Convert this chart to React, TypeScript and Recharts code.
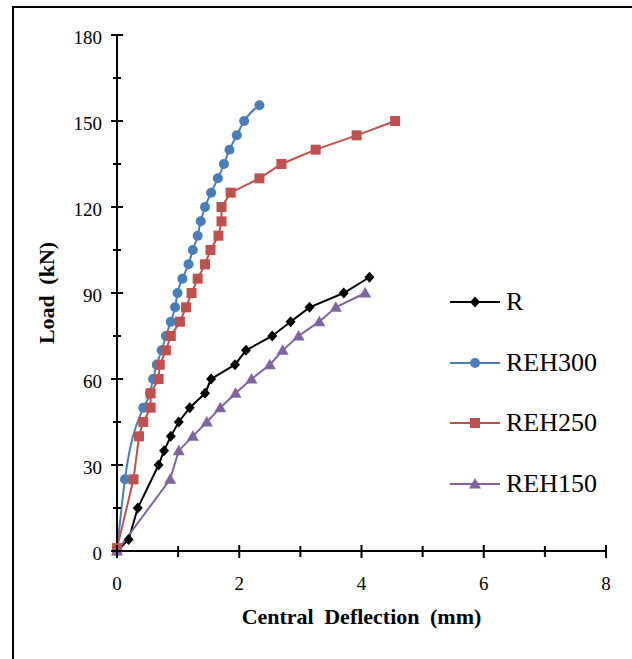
import { LineChart, Line, XAxis, YAxis, Label } from "recharts"

// deflection (mm) / load (kN)
const rDefl = [0, 0.19, 0.34, 0.68, 0.77, 0.88, 1.01, 1.19, 1.44, 1.54, 1.93, 2.11, 2.54, 2.84, 3.15, 3.71, 4.13]
const rLoad = [0, 4, 15, 30, 35, 40, 45, 50, 55, 60, 65, 70, 75, 80, 85, 90, 95.5]

const reh300Defl = [0, 0.13, 0.43, 0.54, 0.59, 0.65, 0.73, 0.8, 0.88, 0.95, 0.99, 1.07, 1.17, 1.24, 1.32, 1.37, 1.44, 1.54, 1.65, 1.75, 1.84, 1.96, 2.08, 2.33]
const reh300Load = [0, 25, 50, 55, 60, 65, 70, 75, 80, 85, 90, 95, 100, 105, 110, 115, 120, 125, 130, 135, 140, 145, 150, 155.5]

const reh250Defl = [0, 0.27, 0.36, 0.43, 0.55, 0.55, 0.68, 0.7, 0.8, 0.88, 1.03, 1.13, 1.22, 1.32, 1.44, 1.53, 1.66, 1.71, 1.71, 1.86, 2.33, 2.69, 3.25, 3.92, 4.55]
const reh250Load = [1, 25, 40, 45, 50, 55, 60, 65, 70, 75, 80, 85, 90, 95, 100, 105, 110, 115, 120, 125, 130, 135, 140, 145, 150]

const reh150Defl = [0, 0.87, 1.01, 1.24, 1.47, 1.69, 1.94, 2.2, 2.5, 2.71, 2.97, 3.31, 3.58, 4.06]
const reh150Load = [0, 25, 35, 40, 45, 50, 55, 60, 65, 70, 75, 80, 85, 90]

const xTicks = [0, 1, 2, 3, 4, 5, 6, 7, 8]
const yTicks = [0, 15, 30, 45, 60, 75, 90, 105, 120, 135, 150, 165, 180]

const toRows = (xs: number[], ys: number[]) => xs.map((x, i) => ({ x, load: ys[i] }))

const FONT = "'Liberation Serif', 'Times New Roman', serif"

const Diamond = (props: any) => {
  const { cx, cy } = props
  if (cx == null || cy == null) return null
  return <path d={`M${cx},${cy - 5.5} L${cx + 5},${cy} L${cx},${cy + 5.5} L${cx - 5},${cy} Z`} fill="#000" />
}
const Circle = (props: any) => {
  const { cx, cy } = props
  if (cx == null || cy == null) return null
  return <circle cx={cx} cy={cy} r={5} fill="#4a7ebb" />
}
const Square = (props: any) => {
  const { cx, cy } = props
  if (cx == null || cy == null) return null
  return <rect x={cx - 5} y={cy - 5} width={10} height={10} fill="#c0504d" />
}
const Triangle = (props: any) => {
  const { cx, cy } = props
  if (cx == null || cy == null) return null
  return <path d={`M${cx},${cy - 6} L${cx + 6},${cy + 4.5} L${cx - 6},${cy + 4.5} Z`} fill="#8064a2" />
}

const series = [
  { name: "R", color: "#000000", data: toRows(rDefl, rLoad), dot: Diamond, type: "linear" as const },
  { name: "REH300", color: "#4a7ebb", data: toRows(reh300Defl, reh300Load), dot: Circle, type: "monotone" as const },
  { name: "REH250", color: "#c0504d", data: toRows(reh250Defl, reh250Load), dot: Square, type: "linear" as const },
  { name: "REH150", color: "#8064a2", data: toRows(reh150Defl, reh150Load), dot: Triangle, type: "linear" as const },
]

const YTick = (props: any) => {
  const { x, y, payload } = props
  const major = payload.value % 30 === 0
  return (
    <g>
      <line x1={x - (major ? 6 : 4)} x2={x + (major ? 6 : 4)} y1={y} y2={y} stroke="#000" strokeWidth={2} />
      {major && (
        <text x={x - 15} y={y + 2} textAnchor="end" dominantBaseline="central" fontFamily={FONT} fontSize={19} fill="#000">
          {payload.value}
        </text>
      )}
    </g>
  )
}

const XTick = (props: any) => {
  const { x, y, payload } = props
  const major = payload.value % 2 === 0
  return (
    <g>
      <line x1={x} x2={x} y1={y - (major ? 6 : 5)} y2={y + (major ? 7 : 6)} stroke="#000" strokeWidth={2} />
      {major && (
        <text x={x} y={y + 32} textAnchor="middle" dominantBaseline="central" fontFamily={FONT} fontSize={19} fill="#000">
          {payload.value}
        </text>
      )}
    </g>
  )
}

const LegendBox = () => (
  <div style={{ position: "absolute", left: 450, top: 272, fontFamily: FONT, fontSize: 26, color: "#000" }}>
    {series.map((s) => {
      const Dot = s.dot
      return (
        <div key={s.name} style={{ display: "flex", alignItems: "center", height: 60.5 }}>
          <svg width={50} height={14} style={{ marginRight: 6 }}>
            <line x1={0} x2={50} y1={7} y2={7} stroke={s.color} strokeWidth={2} />
            <Dot cx={25} cy={7} />
          </svg>
          <span>{s.name}</span>
        </div>
      )
    })}
  </div>
)

const titleStyle = { fontFamily: FONT, fontSize: 22, fontWeight: "bold", fill: "#000", wordSpacing: 5 }

export default function App() {
  return (
    <div style={{ position: "absolute", left: 0, top: 0, width: 632, height: 659, background: "#fff", overflow: "hidden" }}>
      <div style={{ position: "absolute", left: 12, top: 6, width: 640, height: 680, border: "2px solid #000", boxSizing: "border-box" }} />
      <LineChart width={632} height={659} margin={{ top: 35, right: 26, bottom: 48, left: 0 }}>
        <XAxis
          type="number"
          dataKey="x"
          domain={[0, 8]}
          ticks={xTicks}
          interval={0}
          height={60}
          tickSize={0}
          tickMargin={0}
          tick={XTick}
          axisLine={{ stroke: "#000", strokeWidth: 2 }}
          tickLine={false}
          allowDuplicatedCategory={false}
        >
          <Label value="Central Deflection (mm)" position="insideBottom" offset={-13} style={titleStyle} />
        </XAxis>
        <YAxis
          type="number"
          domain={[0, 180]}
          ticks={yTicks}
          interval={0}
          width={117}
          tickSize={0}
          tickMargin={0}
          tick={YTick}
          axisLine={{ stroke: "#000", strokeWidth: 2 }}
          tickLine={false}
        >
          <Label
            value="Load (kN)"
            angle={-90}
            position="insideLeft"
            offset={46}
            style={{ ...titleStyle, textAnchor: "middle" }}
          />
        </YAxis>
        {series.map((s) => (
          <Line
            key={s.name}
            name={s.name}
            data={s.data}
            dataKey="load"
            type={s.type}
            stroke={s.color}
            strokeWidth={2}
            dot={s.dot}
            activeDot={false}
            isAnimationActive={false}
          />
        ))}
      </LineChart>
      <LegendBox />
    </div>
  )
}
